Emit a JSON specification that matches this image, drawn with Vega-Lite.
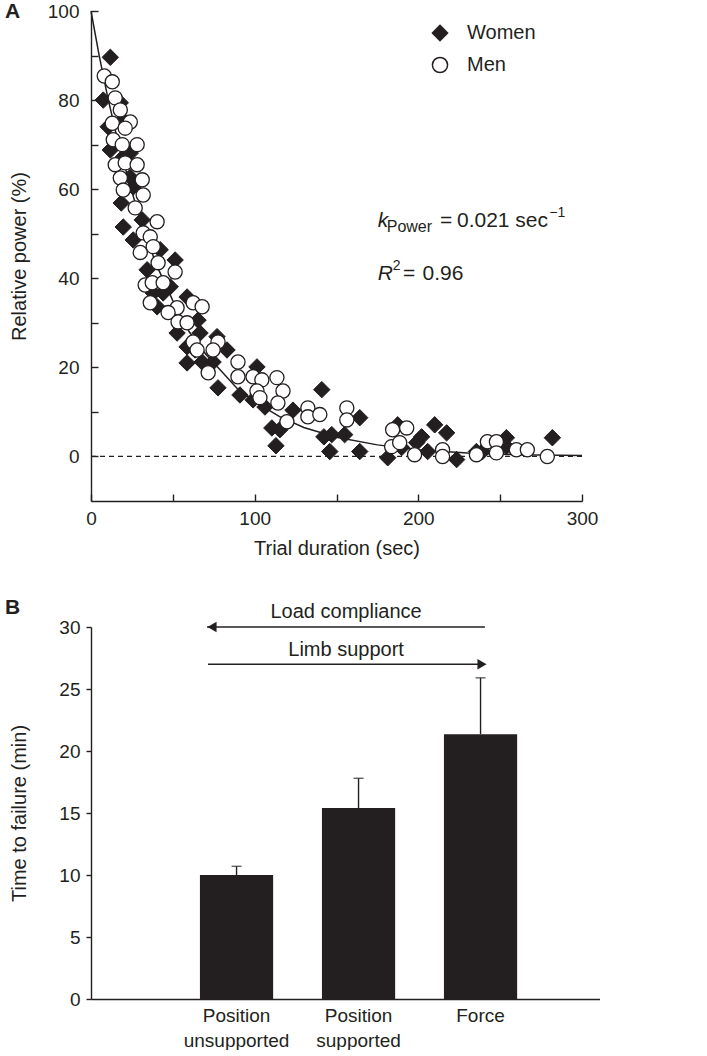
{
  "$schema": "https://vega.github.io/schema/vega-lite/v6.json",
  "background": "white",
  "padding": {"left": 5, "top": 1, "right": 0, "bottom": 0},
  "config": {
    "font": "Liberation Sans",
    "view": {"stroke": null},
    "axis": {
      "labelFont": "Liberation Sans", "labelFontSize": 19, "labelColor": "#231f20",
      "titleFont": "Liberation Sans", "titleFontSize": 20, "titleFontWeight": "normal", "titleColor": "#231f20",
      "domainColor": "#231f20", "tickColor": "#231f20", "domainWidth": 1.4, "tickWidth": 1.4,
      "grid": false, "labelOverlap": false, "labelFlush": false
    },
    "legend": {"labelFont": "Liberation Sans", "labelColor": "#231f20"},
    "title": {"font": "Liberation Sans", "color": "#231f20"}
  },
  "datasets": {
    "scatter": [
      {"sex": "Women", "t": 11.8, "p": 89.6}, {"sex": "Women", "t": 7.5, "p": 80.0}, {"sex": "Women", "t": 17.9, "p": 79.4},
      {"sex": "Women", "t": 10.5, "p": 74.0}, {"sex": "Women", "t": 19.7, "p": 75.5}, {"sex": "Women", "t": 11.8, "p": 68.8},
      {"sex": "Women", "t": 24.0, "p": 68.1}, {"sex": "Women", "t": 19.7, "p": 67.2}, {"sex": "Women", "t": 24.0, "p": 62.7},
      {"sex": "Women", "t": 25.8, "p": 60.5}, {"sex": "Women", "t": 18.5, "p": 56.9}, {"sex": "Women", "t": 19.7, "p": 51.5},
      {"sex": "Women", "t": 25.8, "p": 48.6}, {"sex": "Women", "t": 31.3, "p": 53.1}, {"sex": "Women", "t": 34.3, "p": 41.9},
      {"sex": "Women", "t": 42.3, "p": 46.4}, {"sex": "Women", "t": 51.4, "p": 44.1}, {"sex": "Women", "t": 38.0, "p": 36.7},
      {"sex": "Women", "t": 44.1, "p": 36.7}, {"sex": "Women", "t": 48.4, "p": 38.1}, {"sex": "Women", "t": 58.7, "p": 35.8},
      {"sex": "Women", "t": 65.4, "p": 30.6}, {"sex": "Women", "t": 52.6, "p": 27.7}, {"sex": "Women", "t": 58.7, "p": 24.6},
      {"sex": "Women", "t": 77.0, "p": 26.9}, {"sex": "Women", "t": 83.1, "p": 23.9}, {"sex": "Women", "t": 58.7, "p": 21.0},
      {"sex": "Women", "t": 67.9, "p": 21.2}, {"sex": "Women", "t": 74.6, "p": 21.2}, {"sex": "Women", "t": 101.4, "p": 20.1},
      {"sex": "Women", "t": 40.4, "p": 33.6}, {"sex": "Women", "t": 66.6, "p": 27.7}, {"sex": "Women", "t": 63.6, "p": 23.9},
      {"sex": "Women", "t": 77.6, "p": 15.4}, {"sex": "Women", "t": 91.0, "p": 13.8}, {"sex": "Women", "t": 99.0, "p": 12.7},
      {"sex": "Women", "t": 106.3, "p": 11.1}, {"sex": "Women", "t": 123.4, "p": 10.4}, {"sex": "Women", "t": 110.5, "p": 6.4},
      {"sex": "Women", "t": 115.4, "p": 6.0}, {"sex": "Women", "t": 113.0, "p": 2.4}, {"sex": "Women", "t": 141.0, "p": 15.0},
      {"sex": "Women", "t": 142.3, "p": 4.4}, {"sex": "Women", "t": 147.1, "p": 4.9}, {"sex": "Women", "t": 155.0, "p": 4.9},
      {"sex": "Women", "t": 145.9, "p": 1.1}, {"sex": "Women", "t": 164.2, "p": 8.7}, {"sex": "Women", "t": 164.2, "p": 1.1},
      {"sex": "Women", "t": 181.3, "p": -0.3}, {"sex": "Women", "t": 187.4, "p": 7.1}, {"sex": "Women", "t": 189.8, "p": 2.0},
      {"sex": "Women", "t": 202.0, "p": 4.4}, {"sex": "Women", "t": 199.0, "p": 3.1}, {"sex": "Women", "t": 205.7, "p": 1.1},
      {"sex": "Women", "t": 210.0, "p": 7.1}, {"sex": "Women", "t": 217.3, "p": 5.3}, {"sex": "Women", "t": 223.4, "p": -0.7},
      {"sex": "Women", "t": 235.5, "p": 1.1}, {"sex": "Women", "t": 239.2, "p": 1.1}, {"sex": "Women", "t": 253.8, "p": 4.2},
      {"sex": "Women", "t": 253.8, "p": 2.2}, {"sex": "Women", "t": 281.9, "p": 4.2},
      {"sex": "Men", "t": 8.1, "p": 85.4}, {"sex": "Men", "t": 13.0, "p": 84.1}, {"sex": "Men", "t": 14.8, "p": 80.5},
      {"sex": "Men", "t": 17.9, "p": 77.8}, {"sex": "Men", "t": 24.0, "p": 75.1}, {"sex": "Men", "t": 13.0, "p": 74.8},
      {"sex": "Men", "t": 20.9, "p": 73.7}, {"sex": "Men", "t": 13.6, "p": 71.1}, {"sex": "Men", "t": 19.1, "p": 70.0},
      {"sex": "Men", "t": 28.2, "p": 70.0}, {"sex": "Men", "t": 14.8, "p": 65.5}, {"sex": "Men", "t": 20.9, "p": 65.9},
      {"sex": "Men", "t": 28.2, "p": 65.5}, {"sex": "Men", "t": 17.9, "p": 62.5}, {"sex": "Men", "t": 31.3, "p": 62.1},
      {"sex": "Men", "t": 19.7, "p": 59.8}, {"sex": "Men", "t": 31.9, "p": 58.7}, {"sex": "Men", "t": 27.0, "p": 55.8},
      {"sex": "Men", "t": 40.4, "p": 52.7}, {"sex": "Men", "t": 31.9, "p": 50.2}, {"sex": "Men", "t": 36.2, "p": 49.3},
      {"sex": "Men", "t": 38.0, "p": 47.1}, {"sex": "Men", "t": 30.1, "p": 45.8}, {"sex": "Men", "t": 41.0, "p": 43.5},
      {"sex": "Men", "t": 51.4, "p": 41.4}, {"sex": "Men", "t": 33.1, "p": 38.5}, {"sex": "Men", "t": 37.4, "p": 39.0},
      {"sex": "Men", "t": 44.1, "p": 39.0}, {"sex": "Men", "t": 36.2, "p": 34.5}, {"sex": "Men", "t": 62.4, "p": 34.5},
      {"sex": "Men", "t": 52.6, "p": 33.4}, {"sex": "Men", "t": 47.1, "p": 32.3}, {"sex": "Men", "t": 53.2, "p": 30.2},
      {"sex": "Men", "t": 58.7, "p": 30.0}, {"sex": "Men", "t": 62.4, "p": 25.7}, {"sex": "Men", "t": 77.6, "p": 25.7},
      {"sex": "Men", "t": 74.6, "p": 23.9}, {"sex": "Men", "t": 71.6, "p": 18.8}, {"sex": "Men", "t": 89.8, "p": 21.2},
      {"sex": "Men", "t": 99.0, "p": 17.9}, {"sex": "Men", "t": 113.6, "p": 17.7}, {"sex": "Men", "t": 67.9, "p": 33.6},
      {"sex": "Men", "t": 64.8, "p": 23.9}, {"sex": "Men", "t": 89.8, "p": 17.9}, {"sex": "Men", "t": 104.4, "p": 17.2},
      {"sex": "Men", "t": 101.4, "p": 14.7}, {"sex": "Men", "t": 103.2, "p": 13.2}, {"sex": "Men", "t": 117.3, "p": 14.7},
      {"sex": "Men", "t": 114.2, "p": 12.0}, {"sex": "Men", "t": 119.7, "p": 7.8}, {"sex": "Men", "t": 132.5, "p": 10.9},
      {"sex": "Men", "t": 132.5, "p": 8.9}, {"sex": "Men", "t": 139.8, "p": 9.4}, {"sex": "Men", "t": 156.3, "p": 10.9},
      {"sex": "Men", "t": 156.3, "p": 8.2}, {"sex": "Men", "t": 184.3, "p": 6.0}, {"sex": "Men", "t": 192.9, "p": 6.4},
      {"sex": "Men", "t": 183.7, "p": 2.2}, {"sex": "Men", "t": 188.6, "p": 3.1}, {"sex": "Men", "t": 197.7, "p": 0.4},
      {"sex": "Men", "t": 214.8, "p": 1.5}, {"sex": "Men", "t": 214.8, "p": 0.0}, {"sex": "Men", "t": 235.5, "p": 0.4},
      {"sex": "Men", "t": 242.2, "p": 3.3}, {"sex": "Men", "t": 247.7, "p": 3.3}, {"sex": "Men", "t": 247.7, "p": 0.8},
      {"sex": "Men", "t": 259.9, "p": 1.5}, {"sex": "Men", "t": 266.6, "p": 1.5}, {"sex": "Men", "t": 278.8, "p": 0.0}
    ],
    "curve": [
      {"t": 0, "p": 100}, {"t": 5, "p": 90}, {"t": 10, "p": 81}, {"t": 15, "p": 73}, {"t": 20, "p": 66},
      {"t": 30, "p": 53}, {"t": 40, "p": 43}, {"t": 50, "p": 35}, {"t": 60, "p": 28}, {"t": 70, "p": 23},
      {"t": 80, "p": 19}, {"t": 90, "p": 15}, {"t": 100, "p": 12.3}, {"t": 115, "p": 9}, {"t": 130, "p": 6.5},
      {"t": 150, "p": 4.3}, {"t": 175, "p": 2.6}, {"t": 200, "p": 1.5}, {"t": 230, "p": 0.8}, {"t": 260, "p": 0.4},
      {"t": 300, "p": 0.2}
    ],
    "bars": [
      {"cond": "Position|unsupported", "mean": 10.0, "upper": 10.7},
      {"cond": "Position|supported", "mean": 15.4, "upper": 17.8},
      {"cond": "Force", "mean": 21.35, "upper": 25.9}
    ],
    "one": [{}]
  },
  "spacing": 39,
  "vconcat": [
    {
      "width": 491,
      "height": 490,
      "title": {"text": "A", "anchor": "start", "frame": "group", "fontSize": 21, "fontWeight": "bold", "dx": -86, "offset": -31, "baseline": "middle"},
      "layer": [
        {
          "data": {"name": "one"},
          "mark": {"type": "rule", "strokeDash": [5, 4], "strokeWidth": 1.3, "color": "#231f20"},
          "encoding": {
            "x": {"datum": 0, "type": "quantitative", "scale": {"domain": [0, 300], "nice": false, "zero": false},
              "axis": {"title": "Trial duration (sec)", "values": [0, 50, 100, 150, 200, 250, 300],
                "labelExpr": "datum.value % 100 == 0 ? datum.label : ''", "tickSize": -7, "labelPadding": 15, "titlePadding": 10}},
            "x2": {"datum": 300},
            "y": {"datum": 0, "type": "quantitative", "scale": {"domain": [-10, 100], "nice": false, "zero": false},
              "axis": {"title": "Relative power (%)", "values": [0, 10, 20, 30, 40, 50, 60, 70, 80, 90, 100],
                "labelExpr": "datum.value % 20 == 0 ? datum.label : ''", "tickSize": -7, "labelPadding": 19, "titleX": -62}}
          }
        },
        {
          "data": {"name": "curve"},
          "mark": {"type": "line", "color": "#231f20", "strokeWidth": 1.5},
          "encoding": {
            "x": {"field": "t", "type": "quantitative"},
            "y": {"field": "p", "type": "quantitative"}
          }
        },
        {
          "data": {"name": "scatter"},
          "transform": [{"filter": "datum.sex == 'Women'"}],
          "mark": {"type": "point", "filled": true, "size": 270, "stroke": "#231f20", "strokeWidth": 1, "opacity": 1},
          "encoding": {
            "x": {"field": "t", "type": "quantitative"},
            "y": {"field": "p", "type": "quantitative"},
            "shape": {"field": "sex", "type": "nominal", "scale": {"domain": ["Women", "Men"], "range": ["diamond", "circle"]},
              "legend": {"title": null, "orient": "none", "legendX": 339, "legendY": 12, "labelFontSize": 20, "symbolSize": 230,
                "rowPadding": 10, "labelOffset": 17, "padding": 0,
                "encode": {"symbols": {"update": {"stroke": {"value": "#231f20"}, "strokeWidth": {"value": 1.3}, "size": {"signal": "datum.value == 'Men' ? 196 : 280"}}}}}},
            "fill": {"field": "sex", "type": "nominal", "scale": {"domain": ["Women", "Men"], "range": ["#231f20", "#ffffff"]},
              "legend": {"title": null, "orient": "none", "legendX": 339, "legendY": 12, "labelFontSize": 20, "symbolSize": 230,
                "rowPadding": 10, "labelOffset": 17, "padding": 0,
                "encode": {"symbols": {"update": {"stroke": {"value": "#231f20"}, "strokeWidth": {"value": 1.3}, "size": {"signal": "datum.value == 'Men' ? 196 : 280"}}}}}}
          }
        },
        {
          "data": {"name": "scatter"},
          "transform": [{"filter": "datum.sex == 'Men'"}],
          "mark": {"type": "point", "filled": true, "size": 200, "stroke": "#231f20", "strokeWidth": 1.3, "opacity": 1},
          "encoding": {
            "x": {"field": "t", "type": "quantitative"},
            "y": {"field": "p", "type": "quantitative"},
            "shape": {"field": "sex", "type": "nominal"},
            "fill": {"field": "sex", "type": "nominal"}
          }
        },
        {
          "data": {"name": "one"},
          "mark": {"type": "text", "align": "left", "baseline": "alphabetic", "fontSize": 21, "fontStyle": "italic", "color": "#231f20"},
          "encoding": {"x": {"datum": 175.2, "type": "quantitative"}, "y": {"datum": 51.5, "type": "quantitative"}, "text": {"value": "k"}}
        },
        {
          "data": {"name": "one"},
          "mark": {"type": "text", "align": "left", "baseline": "alphabetic", "fontSize": 16, "color": "#231f20"},
          "encoding": {"x": {"datum": 180.7, "type": "quantitative"}, "y": {"datum": 50.4, "type": "quantitative"}, "text": {"value": "Power"}}
        },
        {
          "data": {"name": "one"},
          "mark": {"type": "text", "align": "left", "baseline": "alphabetic", "fontSize": 21, "color": "#231f20"},
          "encoding": {"x": {"datum": 213.2, "type": "quantitative"}, "y": {"datum": 51.5, "type": "quantitative"}, "text": {"value": "="}}
        },
        {
          "data": {"name": "one"},
          "mark": {"type": "text", "align": "left", "baseline": "alphabetic", "fontSize": 21, "color": "#231f20"},
          "encoding": {"x": {"datum": 223.6, "type": "quantitative"}, "y": {"datum": 51.5, "type": "quantitative"}, "text": {"value": "0.021 sec"}}
        },
        {
          "data": {"name": "one"},
          "mark": {"type": "text", "align": "left", "baseline": "alphabetic", "fontSize": 14, "color": "#231f20"},
          "encoding": {"x": {"datum": 280.0, "type": "quantitative"}, "y": {"datum": 53.8, "type": "quantitative"}, "text": {"value": "−1"}}
        },
        {
          "data": {"name": "one"},
          "mark": {"type": "text", "align": "left", "baseline": "alphabetic", "fontSize": 21, "fontStyle": "italic", "color": "#231f20"},
          "encoding": {"x": {"datum": 175.2, "type": "quantitative"}, "y": {"datum": 39.6, "type": "quantitative"}, "text": {"value": "R"}}
        },
        {
          "data": {"name": "one"},
          "mark": {"type": "text", "align": "left", "baseline": "alphabetic", "fontSize": 14, "color": "#231f20"},
          "encoding": {"x": {"datum": 184.3, "type": "quantitative"}, "y": {"datum": 41.8, "type": "quantitative"}, "text": {"value": "2"}}
        },
        {
          "data": {"name": "one"},
          "mark": {"type": "text", "align": "left", "baseline": "alphabetic", "fontSize": 21, "color": "#231f20"},
          "encoding": {"x": {"datum": 190.6, "type": "quantitative"}, "y": {"datum": 39.6, "type": "quantitative"}, "text": {"value": "="}}
        },
        {
          "data": {"name": "one"},
          "mark": {"type": "text", "align": "left", "baseline": "alphabetic", "fontSize": 21, "color": "#231f20"},
          "encoding": {"x": {"datum": 202.6, "type": "quantitative"}, "y": {"datum": 39.6, "type": "quantitative"}, "text": {"value": "0.96"}}
        }
      ]
    },
    {
      "width": 509,
      "height": 372,
      "title": {"text": "B", "anchor": "start", "frame": "group", "fontSize": 21, "fontWeight": "bold", "dx": -86, "offset": -27, "baseline": "middle"},
      "layer": [
        {
          "data": {"name": "bars"},
          "mark": {"type": "bar", "color": "#231f20"},
          "encoding": {
            "x": {"field": "cond", "type": "nominal",
              "scale": {"domain": ["Position|unsupported", "Position|supported", "Force"], "paddingInner": 0.4, "paddingOuter": 0.786, "align": 0.568},
              "axis": {"title": null, "labelExpr": "split(datum.label, '|')", "ticks": false, "labelPadding": 7, "labelLineHeight": 25, "labelAngle": 0}},
            "y": {"field": "mean", "type": "quantitative", "scale": {"domain": [0, 30], "nice": false},
              "axis": {"title": "Time to failure (min)", "values": [0, 5, 10, 15, 20, 25, 30], "tickSize": 5, "labelPadding": 6, "titleX": -62}}
          }
        },
        {
          "data": {"name": "bars"},
          "mark": {"type": "rule", "color": "#231f20", "strokeWidth": 1.4},
          "encoding": {
            "x": {"field": "cond", "type": "nominal"},
            "y": {"field": "mean", "type": "quantitative"},
            "y2": {"field": "upper"}
          }
        },
        {
          "data": {"name": "bars"},
          "mark": {"type": "tick", "orient": "horizontal", "color": "#231f20", "size": 10, "thickness": 1.4},
          "encoding": {
            "x": {"field": "cond", "type": "nominal"},
            "y": {"field": "upper", "type": "quantitative"}
          }
        },
        {
          "data": {"name": "one"},
          "mark": {"type": "rule", "color": "#231f20", "strokeWidth": 1.5},
          "encoding": {
            "x": {"datum": "Position|unsupported", "type": "nominal", "bandPosition": 0.097},
            "x2": {"datum": "Force", "bandPosition": 0.56},
            "y": {"datum": 30, "type": "quantitative"}
          }
        },
        {
          "data": {"name": "one"},
          "mark": {"type": "rule", "color": "#231f20", "strokeWidth": 1.5},
          "encoding": {
            "x": {"datum": "Position|unsupported", "type": "nominal", "bandPosition": 0.11},
            "x2": {"datum": "Force", "bandPosition": 0.5},
            "y": {"datum": 27, "type": "quantitative"}
          }
        },
        {
          "data": {"name": "one"},
          "mark": {"type": "point", "shape": "triangle-left", "filled": true, "size": 110, "color": "#231f20", "opacity": 1},
          "encoding": {
            "x": {"datum": "Position|unsupported", "type": "nominal", "bandPosition": 0.165},
            "y": {"datum": 30, "type": "quantitative"}
          }
        },
        {
          "data": {"name": "one"},
          "mark": {"type": "point", "shape": "triangle-right", "filled": true, "size": 110, "color": "#231f20", "opacity": 1},
          "encoding": {
            "x": {"datum": "Force", "bandPosition": 0.52, "type": "nominal"},
            "y": {"datum": 27, "type": "quantitative"}
          }
        },
        {
          "data": {"name": "one"},
          "mark": {"type": "text", "align": "center", "baseline": "alphabetic", "fontSize": 20, "color": "#231f20"},
          "encoding": {
            "x": {"datum": "Position|supported", "type": "nominal", "bandPosition": 0.33},
            "y": {"datum": 30.7, "type": "quantitative"},
            "text": {"value": "Load compliance"}
          }
        },
        {
          "data": {"name": "one"},
          "mark": {"type": "text", "align": "center", "baseline": "alphabetic", "fontSize": 20, "color": "#231f20"},
          "encoding": {
            "x": {"datum": "Position|supported", "type": "nominal", "bandPosition": 0.33},
            "y": {"datum": 27.67, "type": "quantitative"},
            "text": {"value": "Limb support"}
          }
        }
      ]
    }
  ]
}
